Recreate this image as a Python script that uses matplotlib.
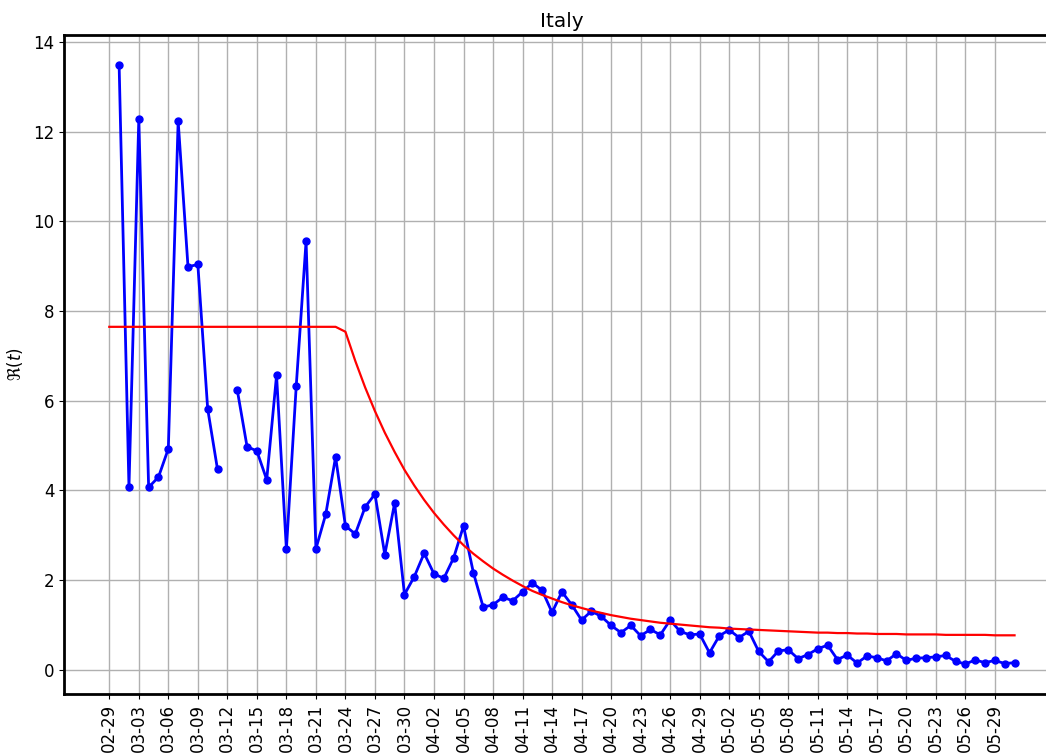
import numpy as np
import pandas as pd
import matplotlib
matplotlib.use('Agg')
import matplotlib.pyplot as plt
import matplotlib.dates as mdates

nan = np.nan

# daily dates, 2020-02-29 .. 2020-05-31
start_date = '2020-02-29'
n_days = 93

# observed reproduction number (blue)
r_observed = [nan, 13.49, 4.07, 12.28, 4.07, 4.30, 4.93, 12.24, 8.99, 9.04, 5.82, 4.47, nan,
              6.25, 4.98, 4.88, 4.24, 6.57, 2.69, 6.33, 9.56, 2.70, 3.47, 4.75, 3.21, 3.03,
              3.63, 3.92, 2.57, 3.72, 1.68, 2.08, 2.60, 2.14, 2.04, 2.50, 3.21, 2.17, 1.40,
              1.45, 1.62, 1.54, 1.74, 1.94, 1.77, 1.28, 1.74, 1.45, 1.11, 1.31, 1.19, 0.99,
              0.83, 0.99, 0.76, 0.90, 0.78, 1.11, 0.86, 0.78, 0.80, 0.38, 0.76, 0.89, 0.72,
              0.86, 0.41, 0.18, 0.42, 0.45, 0.25, 0.34, 0.47, 0.55, 0.23, 0.33, 0.15, 0.31,
              0.27, 0.20, 0.36, 0.21, 0.26, 0.27, 0.29, 0.32, 0.19, 0.13, 0.22, 0.16, 0.21,
              0.14, 0.16]

# fitted curve (red)
r_fit = [7.65] * 24 + [7.54, 6.89, 6.30, 5.77, 5.29, 4.86, 4.46, 4.11, 3.79, 3.50, 3.24, 3.00,
                       2.78, 2.59, 2.42, 2.26, 2.12, 1.99, 1.87, 1.76, 1.67, 1.59, 1.51, 1.44,
                       1.38, 1.32, 1.27, 1.22, 1.18, 1.14, 1.11, 1.08, 1.05, 1.03, 1.01, 0.99,
                       0.97, 0.95, 0.94, 0.92, 0.91, 0.90, 0.89, 0.88, 0.87, 0.86, 0.85, 0.84,
                       0.83, 0.83, 0.82, 0.82, 0.81, 0.81, 0.80, 0.80, 0.80, 0.79, 0.79, 0.79,
                       0.79, 0.78, 0.78, 0.78, 0.78, 0.78, 0.77, 0.77, 0.77]

plt.rcParams['font.size'] = 12

dates = pd.date_range(start_date, periods=n_days, freq='D')

fig = plt.figure(figsize=(10.46, 7.53), dpi=100)
# the right edge runs past the figure, as in the original crop
ax = fig.add_axes([0.0612, 0.0784, 0.952, 0.8751])

ax.plot(dates, r_observed, color='blue', marker='o', markersize=5, linewidth=2)
ax.plot(dates, r_fit, color='red', linewidth=1.6)

ax.set_title('Italy', fontsize=14.4)
ax.set_ylabel(r'$\Re(t)$', labelpad=6)
ax.set_xticks(dates[::3])
ax.xaxis.set_major_formatter(mdates.DateFormatter('%m-%d'))
plt.setp(ax.get_xticklabels(), rotation=90)

for side in ['left', 'bottom', 'top', 'right']:
    ax.spines[side].set_linewidth(2)

ax.grid(True, color='#b0b0b0', linewidth=1)

fig.savefig('out.png', dpi=100)
